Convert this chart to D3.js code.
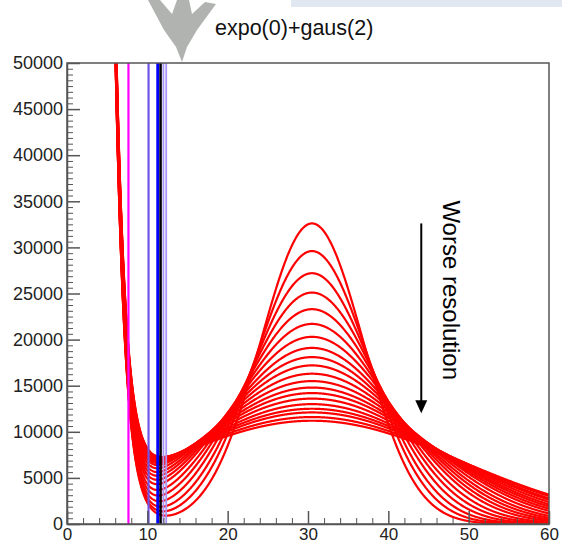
<!DOCTYPE html>
<html>
<head>
<meta charset="utf-8">
<script src="https://cdn.jsdelivr.net/npm/d3@7"></script>
<style>
  body { margin: 0; background: #fff; }
  svg { font-family: "Liberation Sans", Arial, Helvetica, sans-serif; }
  .axis path, .axis line { stroke: #555; }
  .axis text { fill: #222; font-size: 18px; }
  .xaxis text { font-size: 17px; }
</style>
</head>
<body>
<div class="chart"></div>
<script>
// Fitted function: expo(0)+gaus(2) = exp(p0 + p1*x) + p2*exp(-0.5*((x-p3)/p4)^2)
// one curve per resolution step, parameters
var xRange = [0, 60];
var yRange = [0, 50000];
var expoParams = [15.66, -0.80];
var gausMean = 30.5;
var peakHeights = [32600, 29600, 27200, 25100, 23300, 21700, 20300, 19100, 18100, 17200,
                   16300, 15500, 14800, 14200, 13600, 13000, 12500, 12100, 11600, 11200];
var peakWidths = [6.4, 7.05, 7.65, 8.3, 8.95, 9.6, 10.3, 10.9, 11.5, 12.1,
                  12.8, 13.5, 14.1, 14.7, 15.3, 16.0, 16.7, 17.2, 18.0, 18.6];

// vertical cut lines (x values)
var cutValues = [7.65, 10.15, 11.3, 11.65, 12.0, 12.35];

// tick values
var xMajorTicks = [0, 10, 20, 30, 40, 50, 60];
var yMajorTicks = [0, 5000, 10000, 15000, 20000, 25000, 30000, 35000, 40000, 45000, 50000];

var title = "expo(0)+gaus(2)";
var annotation = "Worse resolution";

// Set SVG dimensions
var svgWidth = 562;
var svgHeight = 544;

var margin = { top: 63, right: 13, bottom: 20, left: 67 };
var width = svgWidth - margin.left - margin.right;
var height = svgHeight - margin.top - margin.bottom;

var svg = d3.select(".chart")
  .append("svg")
  .attr("width", svgWidth)
  .attr("height", svgHeight);

// decorations above the pad (background band and grey splat)
svg.append("rect")
  .attr("x", 291).attr("y", 0)
  .attr("width", 271).attr("height", 7)
  .attr("fill", "#e2e8f2");

svg.append("polygon")
  .attr("points", "148,0 160,0 172,14 177,0 189,0 192,14 205,2 216,4 197,30 187,47 182,62 176,47 164,30")
  .attr("fill", "#a9aba9")
  .attr("opacity", 0.9);

svg.append("text")
  .attr("x", 215)
  .attr("y", 35)
  .attr("font-size", "21.5px")
  .attr("fill", "#111")
  .text(title);

var chartGroup = svg.append("g")
  .attr("transform", `translate(${margin.left}, ${margin.top})`);

// scales
var xScale = d3.scaleLinear().domain(xRange).range([0, width]);
var yScale = d3.scaleLinear().domain(yRange).range([height, 0]);

// clip for the curves
svg.append("defs").append("clipPath")
  .attr("id", "plotClip")
  .append("rect")
  .attr("width", width)
  .attr("height", height);

// curves
var xs = d3.range(xRange[0], xRange[1] + 0.001, 0.05);
var curves = peakHeights.map(function (h, i) {
  return xs.map(function (x) {
    var z = (x - gausMean) / peakWidths[i];
    return [x, Math.exp(expoParams[0] + expoParams[1] * x) + h * Math.exp(-0.5 * z * z)];
  });
});

var line = d3.line()
  .x(d => xScale(d[0]))
  .y(d => yScale(Math.min(d[1], 200000)));

var plot = chartGroup.append("g").attr("clip-path", "url(#plotClip)");

plot.selectAll("path.curve")
  .data(curves)
  .enter()
  .append("path")
  .attr("class", "curve")
  .attr("d", line)
  .attr("fill", "none")
  .attr("stroke", "#ff0000")
  .attr("stroke-width", 2.2);

// cut lines
var cutColors = ["#ff00ff", "#6f55e6", "#0000ff", "#000000", "#a895f7", "#a895f7"];
var cutWidths = [2.2, 2.2, 3, 2.5, 1.8, 1.8];

plot.selectAll("line.cut")
  .data(cutValues)
  .enter()
  .append("line")
  .attr("class", "cut")
  .attr("x1", d => xScale(d))
  .attr("x2", d => xScale(d))
  .attr("y1", yScale(yRange[0]))
  .attr("y2", yScale(yRange[1]))
  .attr("stroke", (d, i) => cutColors[i])
  .attr("stroke-width", (d, i) => cutWidths[i]);

// frame
chartGroup.append("rect")
  .attr("width", width)
  .attr("height", height)
  .attr("fill", "none")
  .attr("stroke", "#555")
  .attr("stroke-width", 1.5);

// axes (ticks inside the frame, ROOT style)
var xMinor = d3.range(xRange[0], xRange[1] + 0.001, 2).filter(v => xMajorTicks.indexOf(v) < 0);
var yMinor = d3.range(yRange[0], yRange[1] + 0.001, 625).filter(v => yMajorTicks.indexOf(v) < 0);

chartGroup.append("g")
  .attr("class", "axis")
  .attr("transform", `translate(0, ${height})`)
  .call(d3.axisBottom(xScale).tickValues(xMinor).tickSize(-6).tickFormat(""))
  .call(g => g.select(".domain").remove());

chartGroup.append("g")
  .attr("class", "axis xaxis")
  .attr("transform", `translate(0, ${height})`)
  .call(d3.axisBottom(xScale).tickValues(xMajorTicks).tickSize(-13).tickPadding(4).tickSizeOuter(0))
  .call(g => g.selectAll("line").attr("stroke-width", 1.5))
  .call(g => g.select(".domain").attr("stroke-width", 1.5));

chartGroup.append("g")
  .attr("class", "axis")
  .call(d3.axisLeft(yScale).tickValues(yMinor).tickSize(-6).tickFormat(""))
  .call(g => g.select(".domain").remove());

chartGroup.append("g")
  .attr("class", "axis")
  .call(d3.axisLeft(yScale).tickValues(yMajorTicks).tickSize(-13).tickPadding(4).tickSizeOuter(0).tickFormat(d3.format("d")))
  .call(g => g.selectAll("line").attr("stroke-width", 1.5))
  .call(g => g.select(".domain").attr("stroke-width", 1.5));

// annotation: arrow + rotated text
var arrowX = 44.1;
var arrowTop = 32600;
var arrowTip = 12000;

chartGroup.append("line")
  .attr("x1", xScale(arrowX))
  .attr("x2", xScale(arrowX))
  .attr("y1", yScale(arrowTop))
  .attr("y2", yScale(arrowTip) - 10)
  .attr("stroke", "#000")
  .attr("stroke-width", 2);

chartGroup.append("path")
  .attr("d", `M${xScale(arrowX) - 6},${yScale(arrowTip) - 13} L${xScale(arrowX) + 6},${yScale(arrowTip) - 13} L${xScale(arrowX)},${yScale(arrowTip)} Z`)
  .attr("fill", "#000");

chartGroup.append("text")
  .attr("transform", `translate(${xScale(46.8)}, ${yScale(35100)}) rotate(90)`)
  .attr("font-size", "24px")
  .attr("fill", "#000")
  .text(annotation);
</script>
</body>
</html>
